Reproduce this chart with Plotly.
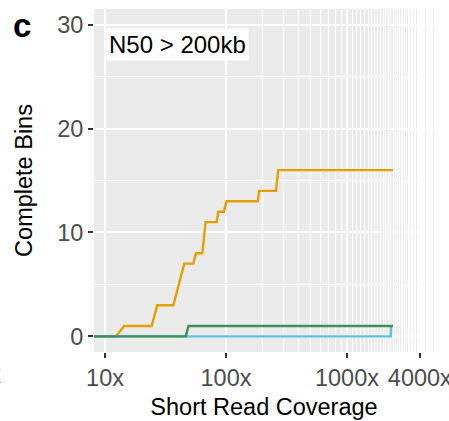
import plotly.graph_objects as go

# Complete bins recovered as short-read coverage increases (N50 > 200kb)
orange_cov = [8.1, 12.3, 14.4, 24.3, 27.0, 36.7, 45.2, 53.7, 56.5, 63.7, 67.8,
              83.7, 86.4, 96.2, 101, 183, 188, 259, 270, 2400]
orange_bins = [0, 0, 1, 1, 3, 3, 7, 7, 8, 8, 11, 11, 12, 12, 13, 13, 14, 14, 16, 16]

blue_cov = [8.1, 2300, 2310]
blue_bins = [0, 0, 1]

green_cov = [8.1, 46.5, 49, 2400]
green_bins = [0, 0, 1, 1]

x_tickvals = [10, 100, 1000, 4000]
x_ticktext = ["10x", "100x", "1000x", "4000x"]
x_minor = [v for v in range(200, 5200, 100) if v not in (1000, 4000)]
y_tickvals = [0, 10, 20, 30]

FONT = "Liberation Sans, Arial, Helvetica, sans-serif"

fig = go.Figure()
fig.add_trace(go.Scatter(x=orange_cov, y=orange_bins, mode="lines",
                         line=dict(color="#E69F00", width=2.4), showlegend=False))
fig.add_trace(go.Scatter(x=blue_cov, y=blue_bins, mode="lines",
                         line=dict(color="#5BC4E4", width=2.4), showlegend=False))
fig.add_trace(go.Scatter(x=green_cov, y=green_bins, mode="lines",
                         line=dict(color="#3A8F5C", width=2.4), showlegend=False))

fig.update_layout(
    width=449, height=421,
    margin=dict(l=94, r=15, t=9, b=69),
    paper_bgcolor="white",
    plot_bgcolor="#EBEBEB",
    font=dict(family=FONT, size=23, color="#4D4D4D"),
    xaxis=dict(
        type="log", range=[0.909, 3.719], automargin=False,
        tickmode="array", tickvals=x_tickvals, ticktext=x_ticktext,
        ticks="outside", ticklen=5, tickwidth=2, tickcolor="#333333",
        ticklabeloverflow="allow",
        showgrid=True, gridcolor="white", gridwidth=2.2,
        zeroline=False, showline=False,
        tickfont=dict(size=23.5, color="#4D4D4D"),
        minor=dict(tickmode="array", tickvals=x_minor, showgrid=True,
                   gridcolor="white", gridwidth=1.4, ticks=""),
        title=dict(text="Short Read Coverage", font=dict(size=23.5, color="black"), standoff=8),
    ),
    yaxis=dict(
        range=[-1.5, 31.5], automargin=False,
        tickmode="array", tickvals=y_tickvals,
        ticks="outside", ticklen=5, tickwidth=2, tickcolor="#333333",
        showgrid=True, gridcolor="white", gridwidth=2.2,
        zeroline=False, showline=False,
        tickfont=dict(size=23.5, color="#4D4D4D"),
        minor=dict(dtick=5, showgrid=True, gridcolor="white", gridwidth=1.1, ticks=""),
        title=dict(text="Complete Bins", font=dict(size=23.5, color="black"), standoff=17),
    ),
    annotations=[
        dict(text="N50 > 200kb", xref="paper", yref="paper", x=0.036, y=0.944,
             xanchor="left", yanchor="top", showarrow=False, bgcolor="white",
             borderpad=2, font=dict(family=FONT, size=24, color="black")),
        dict(text="<b>c</b>", xref="paper", yref="paper", x=-0.212, y=0.953,
             xanchor="center", yanchor="middle", showarrow=False,
             font=dict(family=FONT, size=33, color="black")),
        dict(text="4000x", xref="paper", yref="paper", x=-0.268, y=-0.067,
             xanchor="right", yanchor="middle", showarrow=False,
             font=dict(family=FONT, size=23.5, color="#4D4D4D")),
    ],
)

fig.write_html("out.html")
